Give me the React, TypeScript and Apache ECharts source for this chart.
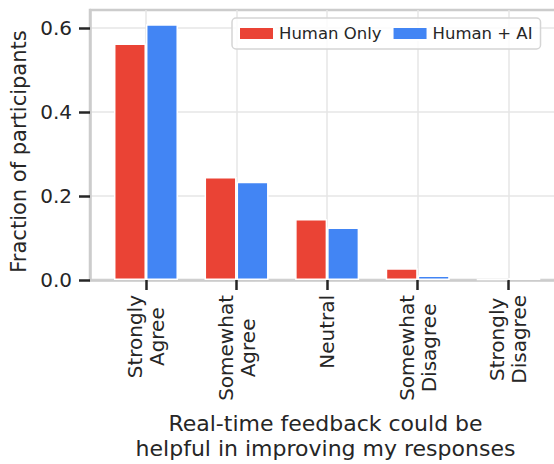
import React, { useEffect, useRef } from "react";
import * as echarts from "echarts";

const categories = ["Strongly\nAgree", "Somewhat\nAgree", "Neutral", "Somewhat\nDisagree", "Strongly\nDisagree"];
const seriesNames = ["Human Only", "Human + AI"];
const humanOnly = [0.563, 0.245, 0.145, 0.028, 0.002];
const humanAI = [0.609, 0.234, 0.125, 0.011, 0.005];
const yTicks = [0, 0.2, 0.4, 0.6];
const xTicks = [0, 1, 2, 3, 4];

const FONT = "DejaVu Sans";
const TEXT = "#262626";
const SPINE = "#cccccc";

export default function App() {
  const ref = useRef<HTMLDivElement>(null);
  useEffect(() => {
    if (!ref.current) return;
    const chart = echarts.init(ref.current, null, { renderer: "svg" });
    const toData = (arr: number[]) => arr.map((v, i) => [i, v]);
    chart.setOption({
      animation: false,
      textStyle: { fontFamily: FONT, color: TEXT },
      grid: {
        left: 90,
        top: 10,
        right: -7,
        bottom: 184,
        containLabel: false,
        outerBoundsMode: "none",
        show: true,
        borderColor: SPINE,
        borderWidth: 2.5,
        backgroundColor: "transparent",
      },
      legend: {
        data: seriesNames,
        left: 232,
        top: 18,
        itemWidth: 35,
        itemHeight: 13,
        itemGap: 10,
        icon: "rect",
        padding: [7, 8, 7, 6],
        borderColor: "#d5d5d5",
        borderWidth: 1.5,
        borderRadius: 4,
        backgroundColor: "rgba(255,255,255,0.85)",
        textStyle: { fontSize: 16.5, color: TEXT, fontFamily: FONT },
      },
      xAxis: {
        type: "value",
        min: -0.618,
        max: 4.582,
        name: "Real-time feedback could be\nhelpful in improving my responses",
        nameLocation: "middle",
        nameGap: 131,
        nameTextStyle: { fontSize: 22, lineHeight: 25, color: TEXT, fontFamily: FONT },
        axisLine: { show: true, onZero: false, lineStyle: { color: SPINE, width: 2.5 } },
        axisTick: {
          show: true,
          customValues: xTicks,
          length: 10,
          lineStyle: { color: TEXT, width: 2.5 },
        },
        axisLabel: {
          customValues: xTicks,
          rotate: 90,
          margin: 15,
          formatter: (v: number) => {
            const i = Math.round(v);
            const c = categories[i];
            if (c === undefined) return "";
            return c
              .split("\n")
              .map((s) => `{c|${s}}`)
              .join("\n");
          },
          rich: {
            c: { align: "center", fontSize: 20, lineHeight: 22, color: TEXT, fontFamily: FONT },
          },
        },
        splitLine: { show: true, lineStyle: { color: "#e6e6e6", width: 1.5 } },
      },
      yAxis: {
        type: "value",
        min: 0,
        max: 0.643,
        interval: 0.2,
        name: "Fraction of participants",
        nameLocation: "middle",
        nameGap: 56,
        nameTextStyle: { fontSize: 21, color: TEXT, fontFamily: FONT, padding: [0, 13, 0, 0] },
        axisLine: { show: true, onZero: false, lineStyle: { color: SPINE, width: 2.5 } },
        axisTick: {
          show: true,
          customValues: yTicks,
          length: 11,
          lineStyle: { color: TEXT, width: 2.5 },
        },
        axisLabel: {
          customValues: yTicks,
          margin: 18,
          fontSize: 20,
          color: TEXT,
          fontFamily: FONT,
          formatter: (v: number) => v.toFixed(1),
        },
        splitLine: { show: true, lineStyle: { color: "#e6e6e6", width: 1.5 } },
      },
      series: [
        {
          name: seriesNames[0],
          type: "bar",
          data: toData(humanOnly),
          barWidth: 32,
          barGap: "0%",
          itemStyle: { color: "#EA4335", borderColor: "#ffffff", borderWidth: 1.5 },
        },
        {
          name: seriesNames[1],
          type: "bar",
          data: toData(humanAI),
          barWidth: 32,
          barGap: "0%",
          itemStyle: { color: "#4285F4", borderColor: "#ffffff", borderWidth: 1.5 },
        },
      ],
    });
    return () => chart.dispose();
  }, []);
  return (
    <div
      ref={ref}
      style={{ position: "fixed", left: 0, top: 0, width: 554, height: 464, background: "#fff" }}
    />
  );
}
